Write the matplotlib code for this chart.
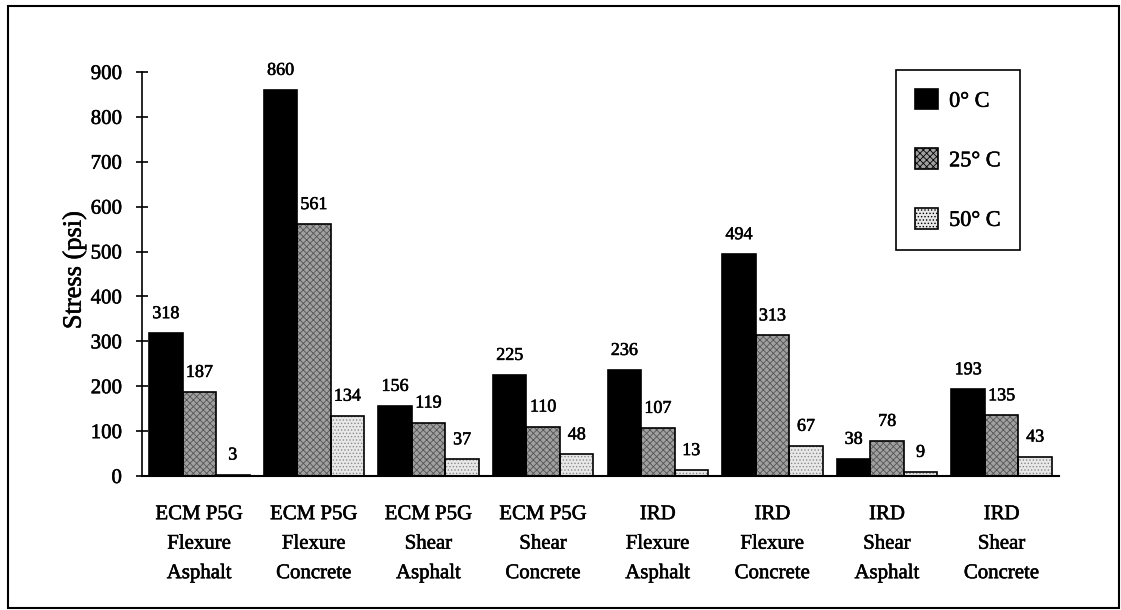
import matplotlib
matplotlib.use("Agg")
import matplotlib.pyplot as plt
import matplotlib.patheffects as pe
import numpy as np
from matplotlib.patches import Rectangle, Patch

categories = ["ECM P5G\nFlexure\nAsphalt", "ECM P5G\nFlexure\nConcrete",
              "ECM P5G\nShear\nAsphalt", "ECM P5G\nShear\nConcrete",
              "IRD\nFlexure\nAsphalt", "IRD\nFlexure\nConcrete",
              "IRD\nShear\nAsphalt", "IRD\nShear\nConcrete"]
series_names = ["0° C", "25° C", "50° C"]
s0 = [318, 860, 156, 225, 236, 494, 38, 193]
s25 = [187, 561, 119, 110, 107, 313, 78, 135]
s50 = [3, 134, 37, 48, 13, 67, 9, 43]
yticks = [0, 100, 200, 300, 400, 500, 600, 700, 800, 900]

plt.rcParams['font.family'] = ['Liberation Serif', 'DejaVu Serif']
plt.rcParams['hatch.linewidth'] = 0.6

thick = [pe.withStroke(linewidth=0.4, foreground='black')]

fig = plt.figure(figsize=(11.21, 6.10), dpi=100)
ax = fig.add_axes([142/1121, (610-476)/610, 917/1121, 404/610])

x = np.arange(len(categories))
w = 0.292
faces = ['black', '#a0a0a0', '#e8e8e8']
hatches = [None, 'xxxxx', '.....']
hcols = ['black', '#555555', '#8a8a8a']
all_series = [s0, s25, s50]
for k, (vals, fc, h, hc) in enumerate(zip(all_series, faces, hatches, hcols)):
    pos = x + (k - 1) * w
    ax.bar(pos, vals, w, color=fc, hatch=h, edgecolor=hc, linewidth=0, zorder=2)
    ax.bar(pos, vals, w, facecolor='none', edgecolor='black', linewidth=1.2, zorder=3)
    for p, v in zip(pos, vals):
        ax.annotate(str(v), (p, v), xytext=(0, 8), textcoords='offset points',
                    ha='center', va='bottom', fontsize=13, path_effects=thick)

ax.set_xlim(-0.5, 7.5)
ax.set_ylim(0, 900)
ax.set_yticks(yticks)
ax.set_yticklabels([str(t) for t in yticks], fontsize=15)
ax.set_xticks(x)
ax.set_xticklabels(categories, fontsize=15, linespacing=1.75)
ax.tick_params(axis='x', length=0, pad=21)
ax.tick_params(axis='y', direction='inout', length=9, width=1.2, pad=10)
for t in ax.get_xticklabels() + ax.get_yticklabels():
    t.set_path_effects(thick)
ax.spines['top'].set_visible(False)
ax.spines['right'].set_visible(False)
ax.spines['left'].set_linewidth(1.2)
ax.spines['bottom'].set_linewidth(1.5)
ax.set_ylabel("Stress (psi)", fontsize=19, path_effects=thick)
ax.yaxis.set_label_coords(-0.061, 0.51)

handles = [Patch(facecolor=fc, edgecolor='black', hatch=h, linewidth=1.2)
           for fc, h in zip(faces, hatches)]
leg = ax.legend(handles, series_names, loc='upper left',
                bbox_to_anchor=(0.822, 1.005), fontsize=16, frameon=True,
                fancybox=False, edgecolor='black', framealpha=1,
                handlelength=1.05, handleheight=1.05, labelspacing=1.65,
                handletextpad=0.5, borderpad=0.85, borderaxespad=0)
leg.get_frame().set_linewidth(1.2)
for t in leg.get_texts():
    t.set_path_effects(thick)

fig.patches.append(Rectangle((8/1121, 2/610), 1111/1121, 602/610,
                             transform=fig.transFigure, fill=False,
                             edgecolor='black', linewidth=1.5))

fig.savefig("out.png", dpi=100)
